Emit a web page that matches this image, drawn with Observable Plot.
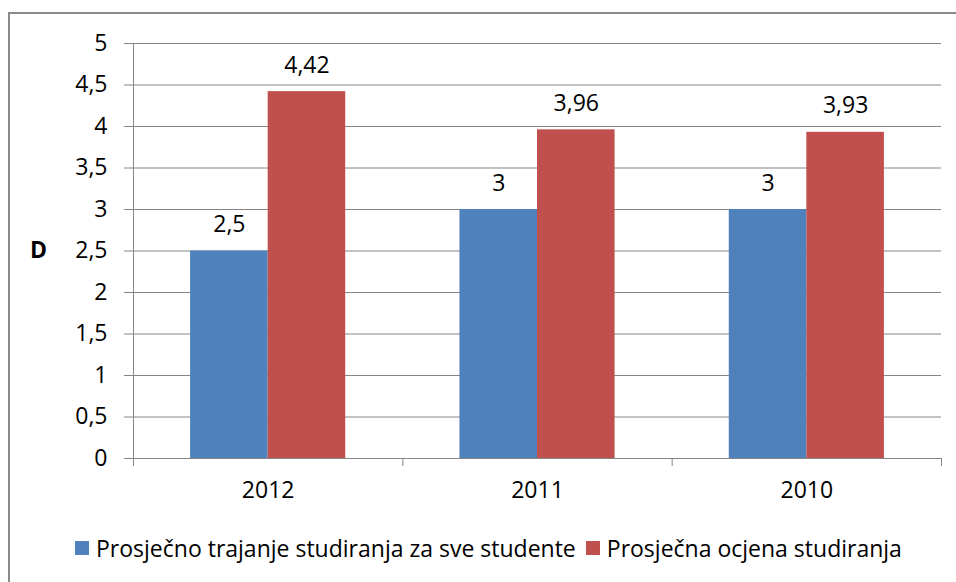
<!DOCTYPE html>
<html><head><meta charset="utf-8">
<script src="https://cdn.jsdelivr.net/npm/d3@7"></script>
<script src="https://cdn.jsdelivr.net/npm/@observablehq/plot@0.6"></script>
<style>
body{margin:0;background:#fff;font-family:"Open Sans",sans-serif;width:956px;height:582px;overflow:hidden;position:relative;}
#frame{position:absolute;left:8px;top:12px;width:1000px;height:700px;border:2px solid #8a8a8a;box-sizing:border-box;}
#chart{position:absolute;left:0;top:0;}
#legend{position:absolute;left:75px;top:532px;display:flex;align-items:center;font-size:23px;color:#000;white-space:nowrap;}
#legend .sw{width:14px;height:14px;display:inline-block;margin-right:7px;}
#legend .item{display:flex;align-items:center;margin-right:10px;}
</style></head>
<body>
<div id="frame"></div>
<div id="chart"></div>
<div id="legend"></div>
<script>
const years = ["2012", "2011", "2010"];
const trajanje = [2.5, 3, 3];
const ocjena = [4.42, 3.96, 3.93];
const seriesNames = ["Prosječno trajanje studiranja za sve studente", "Prosječna ocjena studiranja"];
const seriesColors = ["#4f81bd", "#c0504d"];
const yTicks = [0, 0.5, 1, 1.5, 2, 2.5, 3, 3.5, 4, 4.5, 5];
const yLabel = "D";

const comma = d => String(d).replace(".", ",");
// bar layout within each category band (fractions of the band)
const barStart = 0.212, barMid = 0.5, barEnd = 0.788;

const rows = [];
years.forEach((y, i) => {
  rows.push({i, year: y, s: 0, v: trajanje[i], x1: i + barStart, x2: i + barMid});
  rows.push({i, year: y, s: 1, v: ocjena[i], x1: i + barMid, x2: i + barEnd});
});

const grey = "#868686";
const chart = Plot.plot({
  width: 956,
  height: 520,
  marginLeft: 133,
  marginRight: 15,
  marginTop: 43,
  marginBottom: 62,
  style: {fontFamily: '"Open Sans", sans-serif', color: "#000", background: "transparent"},
  x: {domain: [0, years.length]},
  y: {domain: [0, 5]},
  marks: [
    Plot.ruleY(yTicks.filter(d => d > 0), {stroke: grey, strokeWidth: 1}),
    Plot.rectY(rows, {x1: "x1", x2: "x2", y: "v", fill: d => seriesColors[d.s]}),
    Plot.ruleY([0], {stroke: grey}),
    Plot.ruleX([0], {stroke: grey}),
    Plot.axisX({ticks: d3.range(0, years.length + 1), tickSize: 8, tickFormat: () => "", stroke: grey, label: null}),
    Plot.axisX({ticks: years.map((_, i) => i + 0.5), tickSize: 0, tickPadding: 23, tickFormat: d => years[Math.floor(d)], fontSize: 23, fill: "#000", label: null}),
    Plot.axisY({ticks: yTicks, tickSize: 9, tickPadding: 17, tickFormat: comma, stroke: grey, fill: "#000", fontSize: 23, label: null}),
    Plot.text([yLabel], {x: 0, y: 2.5, text: d => d, dx: -95, fontSize: 23, fontWeight: "bold", fill: "#000"}),
    Plot.text(rows, {x: d => (d.x1 + d.x2) / 2, y: "v", text: d => comma(d.v), lineAnchor: "bottom", dy: -19, fontSize: 23, fill: "#000"})
  ]
});
document.getElementById("chart").appendChild(chart);

const legend = document.getElementById("legend");
seriesNames.forEach((n, k) => {
  const it = document.createElement("div");
  it.className = "item";
  const sw = document.createElement("span");
  sw.className = "sw";
  sw.style.background = seriesColors[k];
  it.appendChild(sw);
  it.appendChild(document.createTextNode(n));
  legend.appendChild(it);
});
</script>
</body></html>
